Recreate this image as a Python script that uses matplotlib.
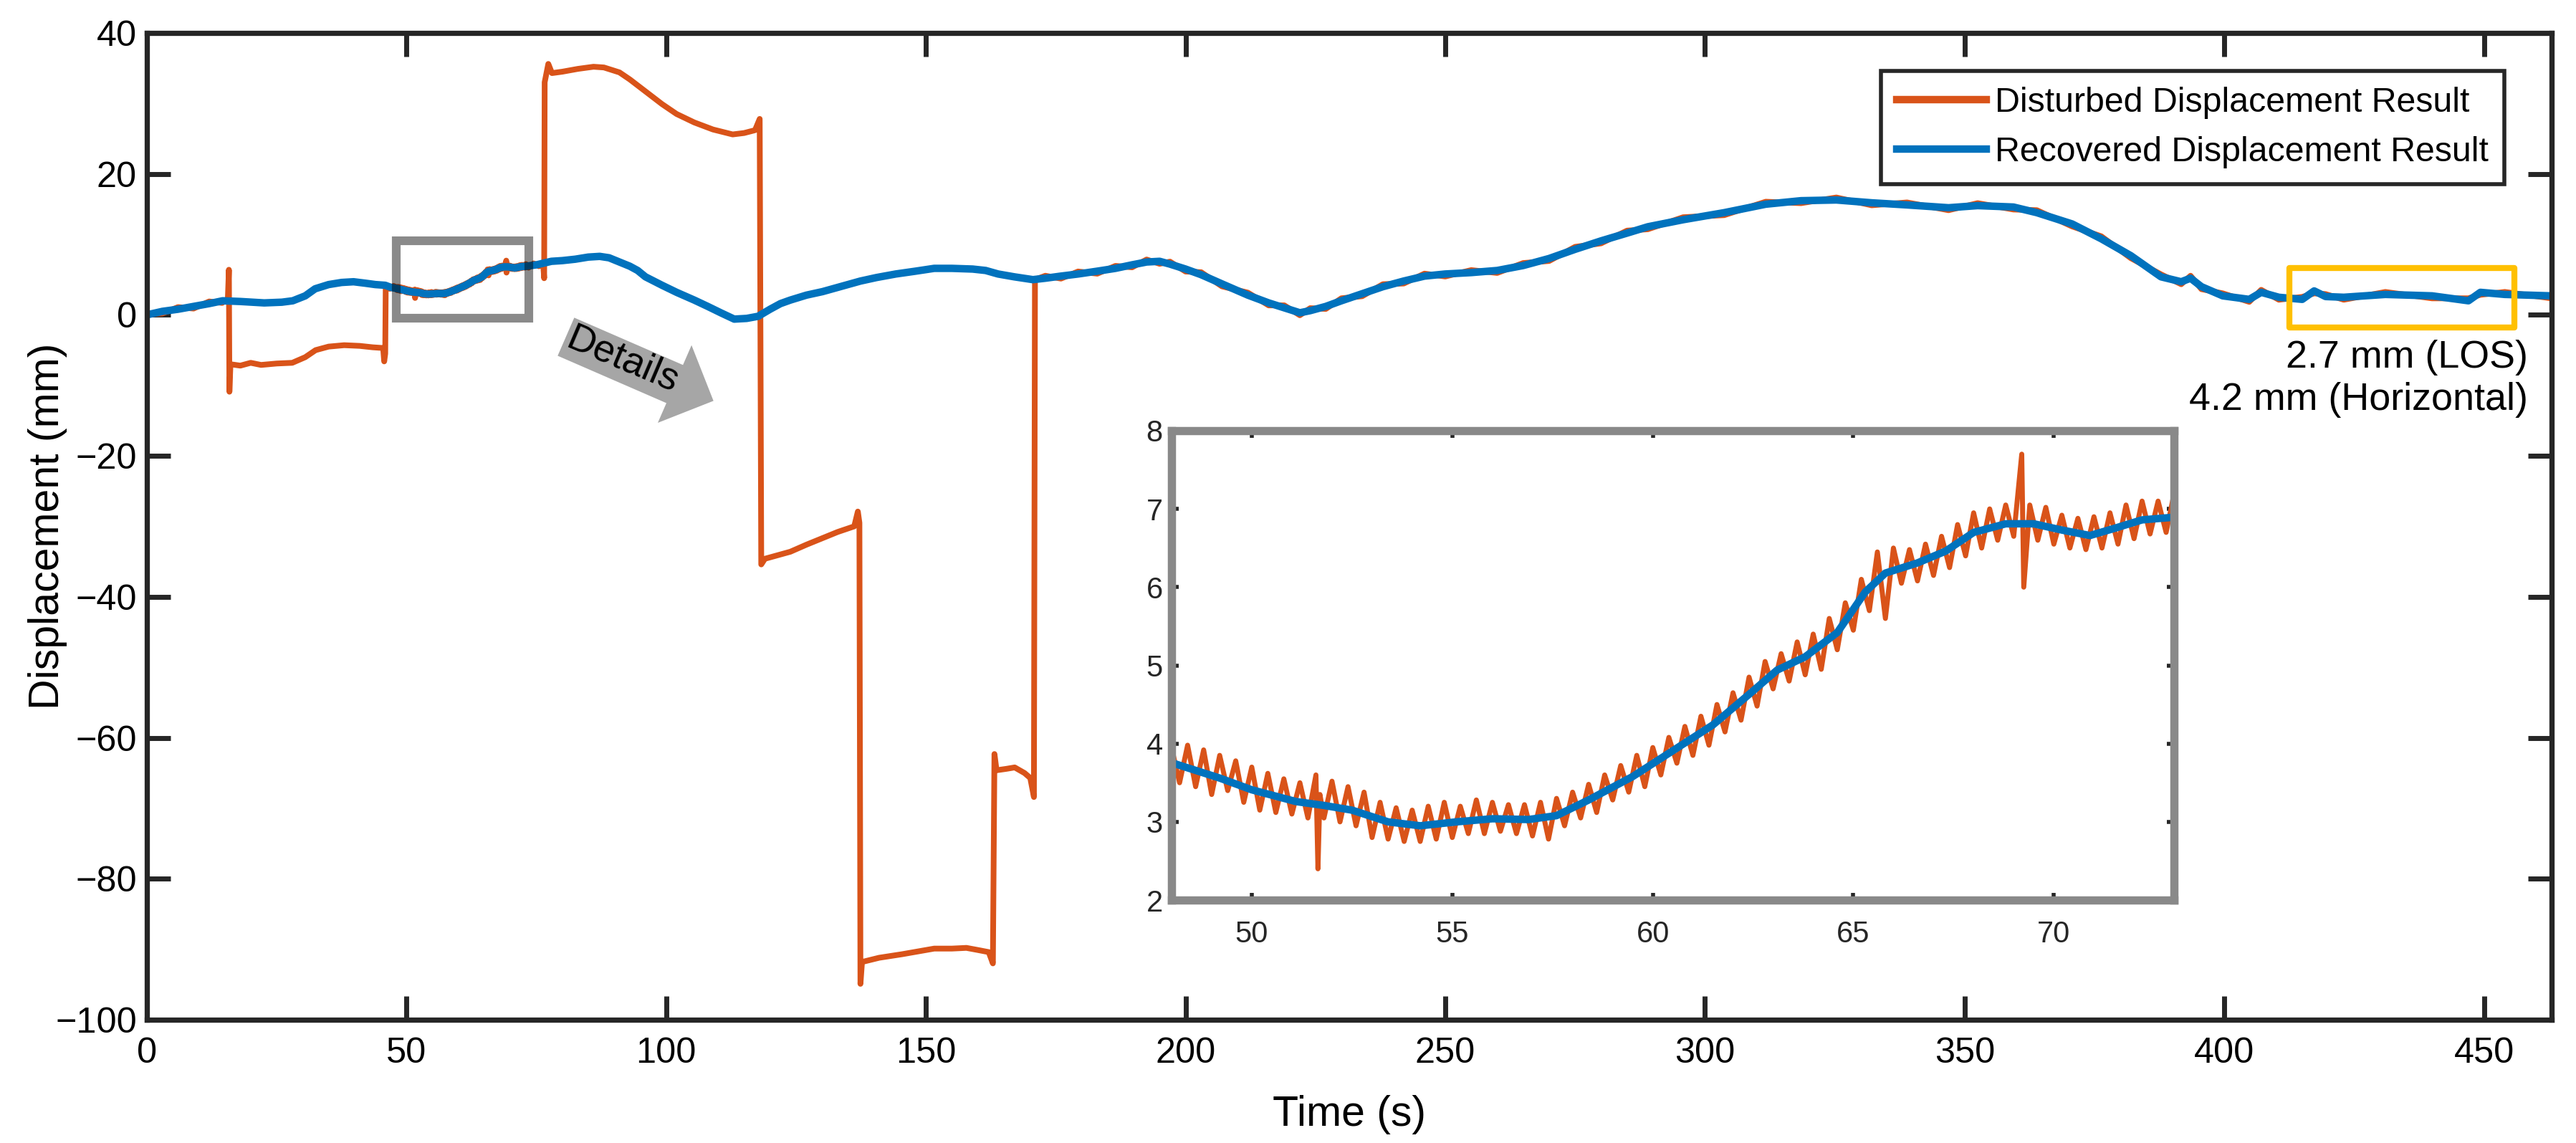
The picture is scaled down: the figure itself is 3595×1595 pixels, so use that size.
import matplotlib
matplotlib.use('Agg')
import matplotlib.pyplot as plt
from matplotlib.patches import Rectangle

plt.rcParams['font.family'] = ['Liberation Sans', 'DejaVu Sans']

# recovered displacement (blue)
rec_t = [0, 3, 6, 9, 12, 14.6, 18, 22.6, 26, 28.1, 30.5, 32.4, 35, 37.5, 39.8, 42, 44, 45.9, 47,
         48.1, 49.2, 50.0, 51.1, 51.8, 52.5, 53.4, 54.2, 55.1, 56.0, 56.9, 57.6, 58.4, 59.5, 60.5,
         61.5, 62.4, 63.1, 63.8, 64.6, 65.3, 65.8, 66.6, 67.3, 68.0, 68.8, 69.5, 70.2, 70.9, 71.5,
         72.2, 72.9, 73.5, 75, 77.9, 80, 82.5, 85, 87.2, 89, 91, 93, 94.5, 96, 99.2, 102, 105.4,
         108, 110.5, 113.1, 115.5, 117.7, 120, 122, 123.9, 127, 130.1, 133, 137.4, 140.5, 144.2,
         148, 151.6, 155, 159, 161.5, 163.9, 167, 170.6, 173, 176, 179.3, 183, 186.5, 189.7,
         192.5, 195, 197, 200, 203, 207, 212, 216, 219, 222, 224, 227, 230, 234, 238, 242, 246,
         250, 255, 260, 265, 270, 275, 280, 285, 289, 295.8, 303.7, 311.7, 318.5, 325.3, 332.1,
         338.9, 346.9, 352.5, 359.4, 363.9, 370.7, 376.3, 382, 387.8, 391.7, 393.5, 395.6, 399.7,
         404.8, 407.1, 410.5, 415, 417.3, 419.5, 423, 431, 440, 447, 449.3, 454, 463]
rec_y = [0.0, 0.5, 0.8, 1.2, 1.6, 2.0, 1.9, 1.7, 1.8, 2.0, 2.7, 3.7, 4.3, 4.6, 4.7, 4.5, 4.3, 4.2, 3.9,
         3.74, 3.56, 3.41, 3.26, 3.21, 3.15, 3.0, 2.95, 3.0, 3.04, 3.03, 3.08, 3.28, 3.58, 3.91,
         4.24, 4.63, 4.94, 5.11, 5.42, 5.94, 6.18, 6.31, 6.46, 6.70, 6.81, 6.81, 6.73, 6.66, 6.75,
         6.86, 6.89, 6.95, 7.1, 7.6, 7.7, 7.9, 8.2, 8.3, 8.1, 7.5, 6.9, 6.3, 5.4, 4.2, 3.2, 2.1,
         1.2, 0.3, -0.6, -0.5, -0.2, 0.8, 1.6, 2.1, 2.8, 3.3, 3.9, 4.8, 5.3, 5.8,
         6.2, 6.6, 6.6, 6.5, 6.3, 5.8, 5.4, 5.0, 5.2, 5.5, 5.8, 6.2, 6.6, 7.1,
         7.5, 7.6, 7.2, 6.5, 5.7, 4.4, 2.8, 1.7, 1.0, 0.3, 0.6, 1.2, 2.0, 3.0, 4.0, 4.8, 5.5,
         5.8, 6.0, 6.3, 7.0, 8.0, 9.3, 10.5, 11.6, 12.5, 13.5, 14.5, 15.7, 16.2, 16.3, 15.9,
         15.6, 15.2, 15.5, 15.3, 14.5, 12.9, 10.8, 8.4, 5.4, 4.7, 5.2, 4.0, 2.7,
         2.2, 3.2, 2.5, 2.2, 3.4, 2.6, 2.5, 2.9, 2.7, 2.0, 3.2, 2.9, 2.7]

# disturbed displacement (orange)
dis_t = [0, 3, 6, 9, 12, 14.5, 15.6, 15.8, 15.9, 16.1, 18, 20, 22, 25, 28, 30.5, 32.5, 35, 38, 41,
         43.5, 45.5, 45.7, 45.9, 46.0, 46.8, 47.5,
         48.0, 48.2, 48.4, 48.6, 48.8, 49.0, 49.2, 49.4, 49.6, 49.8, 50.0, 50.2, 50.4, 50.6, 50.8,
         51.0, 51.2, 51.4, 51.6, 51.65, 51.7, 51.8, 52.0, 52.2, 52.4, 52.6, 52.8, 53.0, 53.2, 53.4,
         53.6, 53.8, 54.0, 54.2, 54.4, 54.6, 54.8, 55.0, 55.2, 55.4, 55.6, 55.8, 56.0, 56.2, 56.4,
         56.6, 56.8, 57.0, 57.2, 57.4, 57.6, 57.8, 58.0, 58.2, 58.4, 58.6, 58.8, 59.0, 59.2, 59.4,
         59.6, 59.8, 60.0, 60.2, 60.4, 60.6, 60.8, 61.0, 61.2, 61.4, 61.6, 61.8, 62.0, 62.2, 62.4,
         62.6, 62.8, 63.0, 63.2, 63.4, 63.6, 63.8, 64.0, 64.2, 64.4, 64.6, 64.8, 65.0, 65.2, 65.4,
         65.6, 65.8, 66.0, 66.2, 66.4, 66.6, 66.8, 67.0, 67.2, 67.4, 67.6, 67.8, 68.0, 68.2, 68.4,
         68.6, 68.8, 69.0, 69.2, 69.25, 69.4, 69.6, 69.8, 70.0, 70.2, 70.4, 70.6, 70.8, 71.0, 71.2,
         71.4, 71.6, 71.8, 72.0, 72.2, 72.4, 72.6, 72.8, 73.0,
         73.5, 74.5, 75.5, 76.3, 76.5, 76.6, 77.3, 78, 80, 83, 86, 88, 91, 93, 96, 99.2, 102, 105.4,
         109, 112.8, 115, 117.1, 118.0, 118.3, 119, 123.9, 127, 130, 133, 136.2, 136.9, 137.2,
         137.4, 137.7, 141, 145.4, 148.5, 151.6, 155, 157.8, 160, 162.1, 162.9, 163.2, 163.6,
         165.5, 167.1, 169, 170.1, 170.8, 171.0,
         173, 176, 179.3, 183, 186.5, 189.7, 192.5, 195, 197, 200, 203, 207, 212, 216, 219, 222,
         224, 227, 230, 234, 238, 242, 246, 250, 255, 260, 265, 270, 275, 280, 285, 289, 295.8,
         303.7, 311.7, 318.5, 325.3, 332.1, 338.9, 346.9, 352.5, 359.4, 363.9, 370.7, 376.3, 382,
         387.8, 391.7, 393.5, 395.6, 399.7, 404.8, 407.1, 410.5, 415, 417.3, 419.5, 423, 431, 440,
         447, 449.3, 454, 463]
dis_y = [0.1, 0.2, 1.1, 0.9, 1.9, 1.7, 2.3, 6.4, -10.9, -7.0, -7.2, -6.8, -7.1, -6.9, -6.8, -6.0,
         -5.0, -4.5, -4.3, -4.4, -4.6, -4.7, -6.6, -5.5, 4.2, 3.7, 4.1,
         3.95, 3.50, 3.98, 3.45, 3.92, 3.35, 3.85, 3.40, 3.78, 3.25, 3.70, 3.15, 3.62, 3.12, 3.55,
         3.10, 3.50, 3.05, 3.60, 2.40, 3.35, 3.05, 3.52, 3.00, 3.45, 2.95, 3.38, 2.80, 3.25, 2.78,
         3.18, 2.75, 3.15, 2.75, 3.20, 2.78, 3.25, 2.80, 3.20, 2.85, 3.28, 2.85, 3.25, 2.88, 3.22,
         2.85, 3.22, 2.82, 3.25, 2.78, 3.30, 2.95, 3.38, 3.05, 3.48, 3.12, 3.60, 3.28, 3.72, 3.38,
         3.85, 3.45, 3.95, 3.60, 4.08, 3.75, 4.22, 3.85, 4.35, 3.98, 4.50, 4.15, 4.65, 4.30, 4.85,
         4.48, 5.05, 4.70, 5.15, 4.80, 5.30, 4.88, 5.40, 4.95, 5.60, 5.20, 5.80, 5.45, 6.10, 5.70,
         6.45, 5.60, 6.50, 6.05, 6.48, 6.08, 6.55, 6.15, 6.65, 6.25, 6.80, 6.40, 6.95, 6.50, 7.00,
         6.60, 7.05, 6.65, 7.70, 6.00, 7.05, 6.60, 7.02, 6.55, 6.92, 6.50, 6.88, 6.48, 6.90, 6.50,
         6.95, 6.55, 7.05, 6.62, 7.10, 6.68, 7.10, 6.70, 7.20,
         6.7, 7.3, 6.9, 7.4, 5.2, 33.0, 35.6, 34.3, 34.5, 34.9, 35.2, 35.1, 34.4, 33.4, 31.7, 29.9,
         28.5, 27.3, 26.3, 25.6, 25.8, 26.2, 27.8, -35.4, -34.6, -33.6, -32.6, -31.7, -30.8, -30.0,
         -27.9, -29.5, -94.9, -91.8, -91.2, -90.7, -90.3, -89.9, -89.9, -89.8, -90.1, -90.4,
         -92.0, -62.3, -64.6, -64.4, -64.2, -65.0, -65.7, -68.4, 5.0,
         5.55, 5.15, 6.15, 5.85, 6.95, 6.75, 7.85, 7.25, 7.55, 6.15, 6.05, 4.05, 3.15, 1.35, 1.35,
         -0.05, 0.95, 0.85, 2.35, 2.65, 4.35, 4.45, 5.85, 5.45, 6.35, 5.95, 7.35, 7.65, 9.65,
         10.15, 11.95, 12.15, 13.85, 14.15, 16.05, 15.85, 16.65, 15.55, 15.95, 14.85, 15.85,
         14.95, 14.85, 12.55, 11.15, 8.05, 5.75, 4.35, 5.55, 3.65, 3.05, 1.85, 3.55, 2.15, 2.55,
         3.05, 2.95, 2.15, 3.25, 2.35, 2.35, 2.85, 3.25, 2.35]

x_ticks = [0, 50, 100, 150, 200, 250, 300, 350, 400, 450]
y_ticks = [-100, -80, -60, -40, -20, 0, 20, 40]
inset_x_ticks = [50, 55, 60, 65, 70]
inset_y_ticks = [2, 3, 4, 5, 6, 7, 8]

orange = '#D95319'
blue = '#0072BD'
dark = '#262626'

fig = plt.figure(figsize=(14.38, 6.38), dpi=250)
ax = fig.add_axes([0.0570, 0.1078, 0.9335, 0.8634])
ax.plot(dis_t, dis_y, color=orange, lw=2.3, label='Disturbed Displacement Result')
ax.plot(rec_t, rec_y, color=blue, lw=3.0, label='Recovered Displacement Result')
ax.set_xlim(0, 463)
ax.set_ylim(-100, 40)
ax.set_xticks(x_ticks)
ax.set_yticks(y_ticks)
for s in ax.spines.values():
    s.set_linewidth(2.1)
    s.set_color(dark)
ax.tick_params(direction='in', length=9.5, width=2, color=dark, labelsize=14.5,
               top=True, right=True, labelcolor='black')
ax.tick_params(axis='x', pad=7)
ax.tick_params(axis='y', pad=4)
ax.set_xlabel('Time (s)', fontsize=17)
ax.set_ylabel('Displacement (mm)', fontsize=17)
ax.xaxis.set_label_coords(0.5, -0.076)
ax.yaxis.set_label_coords(-0.033, 0.5)

leg = ax.legend(loc='upper right', bbox_to_anchor=(0.9803, 0.9615), fontsize=13.9,
                fancybox=False, framealpha=1, edgecolor=dark, borderpad=0.45,
                handlelength=2.6, handletextpad=0.25, borderaxespad=0)
leg.get_frame().set_linewidth(1.6)
for ln in leg.get_lines():
    ln.set_linewidth(3.0)

# zoom window and stable window
ax.add_patch(Rectangle((48, -0.5), 25.5, 11, fill=False, ec='black', alpha=0.46, lw=3.5, zorder=4))
ax.add_patch(Rectangle((412.5, -1.8), 43.3, 8.4, fill=False, ec='#FFC000', lw=2.4,
                       joinstyle='round', zorder=4))
ax.text(458.4, -9.05, '2.7 mm (LOS)\n4.2 mm (Horizontal)', ha='right', va='center',
        multialignment='right', fontsize=15.5, linespacing=1.25)

ax.annotate('', xy=(109.1, -12.2), xytext=(80.7, -3.1),
            arrowprops=dict(arrowstyle='simple,head_length=17,head_width=34,tail_width=16.7',
                            mutation_scale=1, fc='#A6A6A6', ec='none', shrinkA=0, shrinkB=0),
            zorder=5)
ax.text(91.7, -6.5, 'Details', rotation=-23, ha='center', va='center',
        rotation_mode='anchor', fontsize=15.5, zorder=6)

# inset
ins = fig.add_axes([0.4548, 0.2125, 0.3892, 0.4107])
ins.plot(dis_t, dis_y, color=orange, lw=2.0)
ins.plot(rec_t, rec_y, color=blue, lw=3.0)
ins.set_xlim(48, 73)
ins.set_ylim(2, 8)
ins.set_xticks(inset_x_ticks)
ins.set_yticks(inset_y_ticks)
for s in ins.spines.values():
    s.set_linewidth(3.3)
    s.set_color('#898989')
ins.tick_params(direction='in', length=3, width=1.6, color=dark, labelsize=12,
                top=True, right=True, labelcolor=dark)
ins.tick_params(axis='x', pad=8)

fig.savefig('out.png', dpi=250)
